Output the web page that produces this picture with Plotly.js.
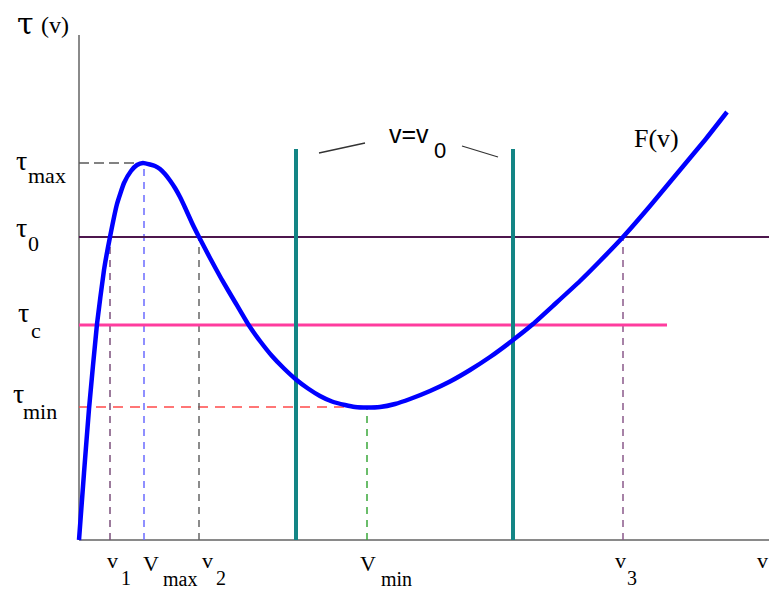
<!DOCTYPE html>
<html>
<head>
<meta charset="utf-8">
<script src="https://cdn.plot.ly/plotly-3.0.1.min.js"></script>
<style>html,body{margin:0;padding:0;background:#fff;}#chart{width:769px;height:590px;}</style>
</head>
<body>
<div id="chart"></div>
<script>
// ---- data (v along the x axis, tau along the y axis, schematic units) ----
const curveV   = [0,5,10,18,25,31,38,45,52,58,64,71,76,81,86,91,96,101,106,113,120,131,143,156,169,181,193,205,217,229,241,253,266,276,288,301,316,331,351,371,391,411,434,454,476,501,521,544,571,601,626,648];
const curveTau = [0,67,131,216,270,303,336,357,369,375,377,375.5,374,371,366,359.5,352,343,332.5,317,303,282,260,238,216,199,184,171.5,160.5,151.5,144,138.5,135,133,132.5,133,136,141,149,158.5,170,183,200,216,236,259,279,303,334,370,400,428];

const tauMax = 377, tau0 = 303, tauC = 215, tauMin = 133;
const v1 = 31, vMax = 65, v2 = 120, vMin = 288, v3 = 544;
const v0Lines = [217, 434];
const v0Top = 391;
const tauCEnd = 588;
const xAxisEnd = 690, yAxisTop = 505;

const xLabelMain = ['v','V','v','V','v'];
const xLabelSub  = ['1','max','2','min','3'];
const yLabelSub  = ['max','0','c','min'];

// ---- helpers for text placement (pixel -> paper) ----
const W = 769, H = 590;
const SERIF = 'Liberation Serif, Times New Roman, serif';
const SANS = 'Liberation Sans, Arial, sans-serif';
function ann(text, px, py, size, family, extra) {
  return Object.assign({
    xref:'paper', yref:'paper', x: px / W, y: 1 - py / H,
    xanchor:'left', yanchor:'middle', showarrow:false, text: text, borderpad:0,
    font:{family: family || SERIF, size: size, color:'#000'}
  }, extra || {});
}

const traces = [];
function seg(x, y, color, width, dash) {
  traces.push({x:x, y:y, mode:'lines', type:'scatter', hoverinfo:'skip', showlegend:false,
    line:{color:color, width:width, dash:dash || 'solid'}});
}

// axes
seg([0,0],[0,yAxisTop], '#8a8a8a', 2);
seg([0,xAxisEnd],[0,0], '#8a8a8a', 2);

// dashed guides
seg([0, vMax],[tauMax, tauMax], '#5a5a5a', 1.5, '10px,5px');
seg([0, vMin],[tauMin, tauMin], '#ff4a4a', 1.5, '10px,7px');
seg([v1, v1],[0, tau0], '#7b4f7b', 1.5, '7px,6px');
seg([vMax, vMax],[0, tauMax], '#6b6bff', 1.5, '7px,6px');
seg([v2, v2],[0, tau0], '#666666', 1.5, '7px,6px');
seg([vMin, vMin],[0, tauMin], '#3aa83a', 1.5, '7px,6px');
seg([v3, v3],[0, tau0], '#8a5a8a', 1.5, '7px,6px');

// horizontal levels
seg([0, xAxisEnd],[tau0, tau0], '#4d174d', 2);
seg([0, tauCEnd],[tauC, tauC], '#ff3c9e', 3);

// v = v0 lines
v0Lines.forEach(function(v){ seg([v, v],[0, v0Top], '#138585', 4); });

// curve F(v)
traces.push({x:curveV, y:curveTau, mode:'lines', type:'scatter', hoverinfo:'skip', showlegend:false,
  line:{color:'#0000ff', width:4.5, shape:'spline', smoothing:0.4}});

const annotations = [
  ann('τ', 16, 23, 30, 'DejaVu Serif, serif'),
  ann('(v)', 40, 25, 24),
  ann('τ', 15, 160.5, 28), ann(yLabelSub[0], 27, 176, 22),
  ann('τ', 15, 227.5, 28), ann(yLabelSub[1], 27, 243, 22),
  ann('τ', 17, 312.5, 28), ann(yLabelSub[2], 30, 330, 22),
  ann('τ', 12, 393.5, 28), ann(yLabelSub[3], 22, 411, 22),
  ann('F(v)', 633, 138, 26),
  ann('v=v', 388, 134, 25, SANS),
  ann('0', 433, 150, 22, SANS),
  ann('v', 756, 560, 22)
];
const xLabelPx = [[106,120],[142,162],[201,215],[359,380],[614,626]];
const xMainPy = [560,563,560,563,560];
const xSubPy = [578,579,578,579,578];
for (let i = 0; i < xLabelMain.length; i++) {
  annotations.push(ann(xLabelMain[i], xLabelPx[i][0], xMainPy[i], 22));
  annotations.push(ann(xLabelSub[i], xLabelPx[i][1], xSubPy[i], 20));
}

const shapes = [
  {type:'line', xref:'paper', yref:'paper', x0:319/W, y0:1-153/H, x1:365/W, y1:1-143/H, line:{color:'#333', width:1.3}},
  {type:'line', xref:'paper', yref:'paper', x0:462/W, y0:1-146/H, x1:498/W, y1:1-157/H, line:{color:'#333', width:1.3}}
];

const layout = {
  width: W, height: H,
  margin:{l:0, r:0, t:0, b:0, pad:0},
  paper_bgcolor:'#ffffff', plot_bgcolor:'#ffffff',
  xaxis:{range:[-79, 690], visible:false, showgrid:false, zeroline:false, fixedrange:true},
  yaxis:{range:[-50, 540], visible:false, showgrid:false, zeroline:false, fixedrange:true},
  annotations: annotations,
  shapes: shapes,
  showlegend:false
};

Plotly.newPlot('chart', traces, layout, {displayModeBar:false, staticPlot:true});
</script>
</body>
</html>
